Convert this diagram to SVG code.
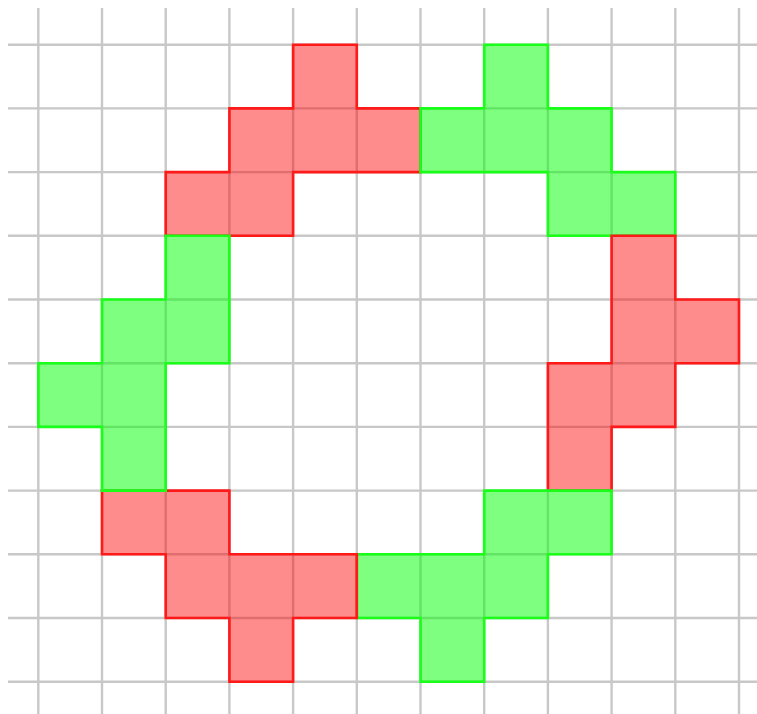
<svg xmlns="http://www.w3.org/2000/svg" width="757" height="714" viewBox="0 0 757 714">
<style>
.g{stroke:#c8c8c8;stroke-width:2.4;fill:none}
.red{fill:#ff0000;fill-opacity:0.45;stroke:#ff1a1a;stroke-width:2.6;stroke-linejoin:miter}
.green{fill:#00ff00;fill-opacity:0.5;stroke:#1aff1a;stroke-width:2.6;stroke-linejoin:miter}
</style>
<rect width="757" height="714" fill="#ffffff"/>
<g id="grid" class="g">
<path d="M38.3 8V714M102 8V714M165.7 8V714M229.4 8V714M293.1 8V714M356.8 8V714M420.5 8V714M484.2 8V714M547.9 8V714M611.6 8V714M675.3 8V714M739 8V714"/>
<path d="M8 44.7H757M8 108.4H757M8 172.1H757M8 235.8H757M8 299.5H757M8 363.2H757M8 426.9H757M8 490.6H757M8 554.3H757M8 618H757M8 681.7H757"/>
</g>
<g id="red-top"><polygon class="red" points="293.1,44.7 356.8,44.7 356.8,108.4 420.5,108.4 420.5,172.1 293.1,172.1 293.1,235.8 165.7,235.8 165.7,172.1 229.4,172.1 229.4,108.4 293.1,108.4"/></g>
<g id="green-top"><polygon class="green" points="484.2,44.7 547.9,44.7 547.9,108.4 611.6,108.4 611.6,172.1 675.3,172.1 675.3,235.8 547.9,235.8 547.9,172.1 420.5,172.1 420.5,108.4 484.2,108.4"/></g>
<g id="red-right"><polygon class="red" points="611.6,235.8 675.3,235.8 675.3,299.5 739,299.5 739,363.2 675.3,363.2 675.3,426.9 611.6,426.9 611.6,490.6 547.9,490.6 547.9,363.2 611.6,363.2"/></g>
<g id="green-bottom"><polygon class="green" points="484.2,490.6 611.6,490.6 611.6,554.3 547.9,554.3 547.9,618 484.2,618 484.2,681.7 420.5,681.7 420.5,618 356.8,618 356.8,554.3 484.2,554.3"/></g>
<g id="red-bottom"><polygon class="red" points="102,490.6 229.4,490.6 229.4,554.3 356.8,554.3 356.8,618 293.1,618 293.1,681.7 229.4,681.7 229.4,618 165.7,618 165.7,554.3 102,554.3"/></g>
<g id="green-left"><polygon class="green" points="165.7,235.8 229.4,235.8 229.4,363.2 165.7,363.2 165.7,490.6 102,490.6 102,426.9 38.3,426.9 38.3,363.2 102,363.2 102,299.5 165.7,299.5"/></g>
<g id="connectors"></g>
</svg>
